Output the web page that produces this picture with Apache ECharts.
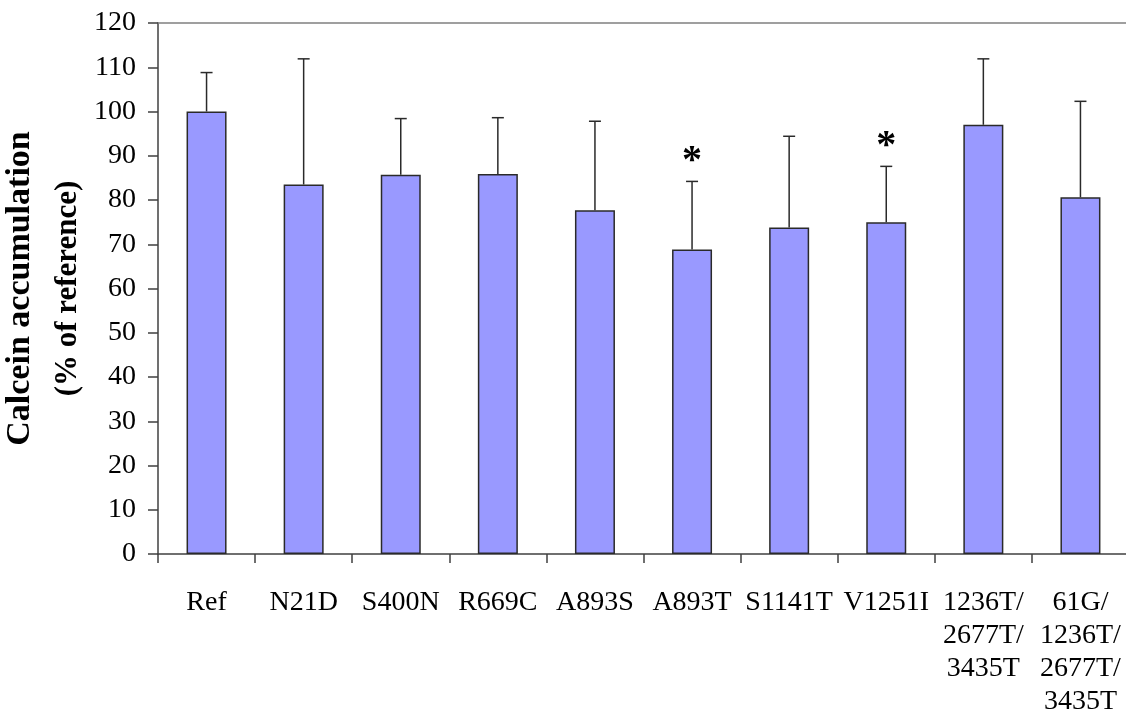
<!DOCTYPE html>
<html>
<head>
<meta charset="utf-8">
<style>
  html, body { margin: 0; padding: 0; background: #ffffff; }
  #chart { width: 1126px; height: 723px; }
</style>
<script src="https://cdn.jsdelivr.net/npm/echarts@6/dist/echarts.min.js"></script>
</head>
<body>
<div id="chart"></div>
<script>
// Variants tested
const categories = ['Ref', 'N21D', 'S400N', 'R669C', 'A893S', 'A893T', 'S1141T', 'V1251I',
  '1236T/\n2677T/\n3435T', '61G/\n1236T/\n2677T/\n3435T'];
// Mean calcein accumulation, % of reference
const meanValues = [100.0, 83.5, 85.7, 85.9, 77.7, 68.8, 73.8, 75.0, 97.0, 80.6];
// Upper error (SD)
const errorValues = [8.8, 28.4, 12.7, 12.7, 20.1, 15.4, 20.6, 12.6, 14.9, 21.7];
// Significant difference from reference
const significant = [false, false, false, false, false, true, false, true, false, false];
const yTicks = { min: 0, max: 120, interval: 10 };

const FONT = "'Liberation Serif', 'Times New Roman', serif";

const chart = echarts.init(document.getElementById('chart'), null, { renderer: 'canvas' });

const errorData = meanValues.map((v, i) => [i, v, errorValues[i], significant[i] ? 1 : 0]);

chart.setOption({
  animation: false,
  backgroundColor: '#ffffff',
  grid: { left: 158, right: -3, top: 23, bottom: 169, containLabel: false, outerBoundsMode: 'none' },
  xAxis: [{
    type: 'category',
    data: categories,
    axisLine: { show: true, lineStyle: { color: '#404040', width: 1.5 } },
    axisTick: { show: true, inside: false, length: 9, alignWithLabel: false, lineStyle: { color: '#404040', width: 1.5 } },
    axisLabel: {
      interval: 0,
      margin: 32,
      color: '#000000',
      fontFamily: FONT,
      fontSize: 28,
      lineHeight: 33,
      align: 'center'
    },
    splitLine: { show: false }
  }, {
    type: 'category',
    position: 'top',
    data: categories,
    axisLine: { show: true, lineStyle: { color: '#808080', width: 1.5 } },
    axisTick: { show: false },
    axisLabel: { show: false }
  }],
  yAxis: {
    type: 'value',
    min: yTicks.min,
    max: yTicks.max,
    interval: yTicks.interval,
    axisLine: { show: true, lineStyle: { color: '#404040', width: 1.5 } },
    axisTick: { show: true, inside: false, length: 10, lineStyle: { color: '#404040', width: 1.5 } },
    axisLabel: { margin: 22, color: '#000000', fontFamily: FONT, fontSize: 28 },
    splitLine: { show: false },
    name: '{a|Calcein accumulation}\n{b|(% of reference)}',
    nameLocation: 'middle',
    nameRotate: 90,
    nameGap: 65,
    nameTextStyle: {
      fontFamily: FONT,
      fontWeight: 'bold',
      color: '#000000',
      align: 'center',
      rich: {
        a: { fontFamily: FONT, fontWeight: 'bold', fontSize: 34, lineHeight: 54, color: '#000000' },
        b: { fontFamily: FONT, fontWeight: 'bold', fontSize: 31, lineHeight: 40, color: '#000000' }
      }
    }
  },
  series: [{
    type: 'bar',
    data: meanValues,
    barWidth: 40,
    itemStyle: { color: '#9999FF', borderColor: '#2a2a2a', borderWidth: 1.5 },
    z: 2
  }, {
    type: 'custom',
    data: errorData,
    z: 3,
    renderItem: function (params, api) {
      const idx = api.value(0);
      const mean = api.value(1);
      const err = api.value(2);
      const sig = api.value(3);
      const base = api.coord([idx, mean]);
      const top = api.coord([idx, mean + err]);
      const capHalf = 6;
      const lineStyle = { stroke: '#2a2a2a', lineWidth: 1.5 };
      const children = [
        { type: 'line', shape: { x1: base[0], y1: base[1], x2: top[0], y2: top[1] }, style: lineStyle },
        { type: 'line', shape: { x1: top[0] - capHalf, y1: top[1], x2: top[0] + capHalf, y2: top[1] }, style: lineStyle }
      ];
      if (sig) {
        children.push({
          type: 'text',
          style: {
            text: '*',
            x: top[0],
            y: top[1] - 20,
            align: 'center',
            verticalAlign: 'middle',
            font: "bold 40px 'Liberation Serif', 'Times New Roman', serif",
            fill: '#000000'
          }
        });
      }
      return { type: 'group', children: children };
    }
  }]
});
</script>
</body>
</html>
